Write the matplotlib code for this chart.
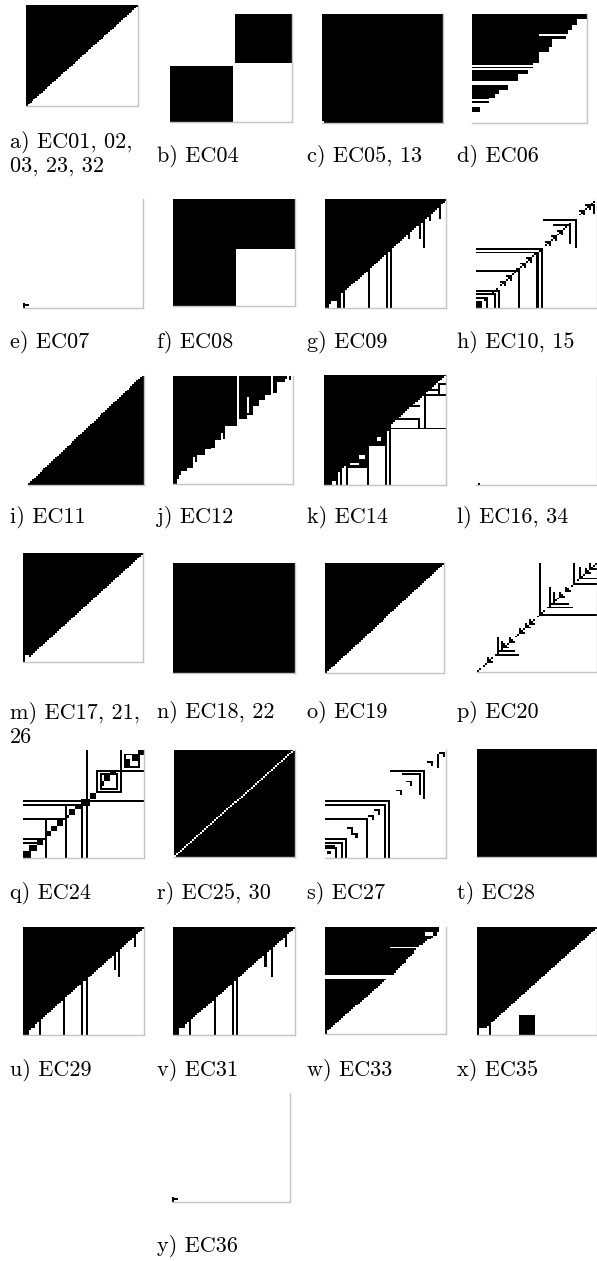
import numpy as np
import matplotlib
matplotlib.use('Agg')
import matplotlib.pyplot as plt

N = 60          # cells per side of every matrix
W, H = 597, 1261

# ---- data: binary matrices, 1 = black cell ----------------------------------
# upper-left triangle: column j holds N-j black cells from the top
tri = list(range(N, 0, -1))

ec04_black = [(0, 27, 32, 60), (29, 60, 0, 31)]
ec05_white = [(59, 60, 0, 1)]
ec06_widths = [60, 60, 60, 55, 55, 55, 52, 52, 52, 50, 50, 35, 49, 49, 42, 42, 42, 42,
               40, 40, 40, 35, 35, 35, 35, 35, 35, 32, 0, 32, 0, 29, 29, 24, 24, 24, 24,
               0, 0, 19, 19, 19, 14, 14, 12, 12, 9, 0, 9, 0, 0, 4, 4, 4, 0, 0, 0, 0, 0, 0]
ec07_black = [(57, 60, 0, 1), (58, 59, 0, 3)]
ec08_white = [(28, 60, 31, 60)]
ec09_spikes = {0: 60, 1: 60, 3: 56, 4: 56, 5: 56, 6: 60, 7: 60, 8: 52, 9: 60, 21: 60,
               30: 60, 32: 60, 41: 22, 46: 22, 48: 27, 51: 12, 56: 11}
ec10_lines = [(27, 28, 0, 33), (27, 60, 32, 33), (29, 30, 0, 31), (29, 60, 30, 31),
              (39, 40, 0, 22), (39, 60, 21, 22), (38, 40, 20, 22),
              (50, 51, 0, 12), (50, 60, 11, 12), (52, 53, 0, 10), (52, 60, 9, 10),
              (54, 55, 0, 6), (54, 60, 5, 6), (56, 60, 0, 3),
              (11, 12, 33, 50), (11, 27, 49, 50), (14, 15, 38, 47), (14, 25, 46, 47),
              (3, 4, 55, 59), (3, 8, 58, 59)]
ec10_dots = [1, 2, 4, 5, 7, 8, 10, 12, 13, 15, 16, 18, 19, 22, 23, 25, 26, 28, 29, 31,
             34, 35, 37, 38, 40, 41, 43, 44, 46, 48, 51, 52, 54, 55, 57, 58]
ec10_heads = [14, 17, 24, 27, 36, 39, 42, 53, 56]
ec11_rise = list(range(1, N + 1))   # lower-right triangle, cells from the bottom
ec12_heights = [60, 60, 57, 55, 53, 53, 53, 51, 51, 51, 45, 48, 44, 44, 44, 44, 41, 41, 41, 40,
                40, 36, 36, 36, 32, 35, 28, 28, 28, 28, 28, 28, 0, 24, 24, 24, 24, 22, 22, 22,
                17, 17, 17, 14, 14, 14, 11, 11, 11, 0, 10, 10, 4, 4, 4, 4, 2, 0, 3, 0]
ec12_holes = [(12, 21, 37, 38)]
ec14_spikes = {0: 60, 1: 60, 2: 60, 3: 60, 4: 58, 5: 58, 6: 60, 7: 53, 8: 60, 11: 60,
               12: 51, 13: 51, 14: 51, 15: 51, 16: 51, 17: 51, 18: 51, 19: 51, 20: 51,
               21: 60, 22: 39, 23: 39, 24: 39, 25: 39, 26: 39, 27: 39, 28: 39, 29: 39,
               30: 60, 31: 31, 32: 60}
ec14_lines = [(29, 30, 32, 60), (11, 12, 49, 60), (12, 30, 49, 50), (5, 6, 56, 60),
              (5, 12, 56, 57), (24, 25, 36, 47), (24, 29, 46, 47), (17, 18, 43, 47),
              (8, 9, 52, 56)]
ec14_holes = [(48, 49, 13, 17), (44, 46, 17, 20), (34, 36, 26, 28)]
ec16_black = [(59, 60, 1, 2)]
ec17_spikes = {1: 56, 2: 56}
ec20_lines = [(0, 29, 31, 32), (28, 29, 31, 60), (13, 25, 36, 37), (24, 25, 36, 48),
              (16, 23, 38, 39), (22, 23, 38, 46), (0, 12, 48, 49), (11, 12, 48, 60),
              (2, 9, 51, 52), (8, 9, 51, 60), (0, 4, 56, 57), (3, 4, 56, 60),
              (41, 51, 10, 11), (50, 51, 10, 21), (43, 49, 12, 13), (48, 49, 12, 19)]
ec20_dots = [0, 1, 3, 4, 6, 7, 9, 11, 12, 14, 15, 17, 19, 20, 22, 23, 25, 27, 28, 30, 32,
             33, 35, 37, 39, 40, 42, 44, 45, 47, 50, 52, 53, 55, 57, 58, 59]
ec20_heads = [5, 13, 16, 21, 24, 26, 41, 44, 54]
ec24_lines = [(28, 29, 0, 60), (0, 60, 31, 32), (30, 31, 0, 32), (28, 60, 29, 30),
              (38, 39, 0, 22), (30, 60, 21, 22), (49, 50, 0, 11), (38, 60, 11, 12),
              (51, 52, 0, 9), (11, 12, 36, 60), (0, 24, 48, 49), (11, 24, 36, 37),
              (23, 24, 36, 49), (13, 14, 38, 47), (13, 22, 38, 39), (21, 22, 38, 47),
              (13, 22, 46, 47), (2, 3, 50, 58), (2, 10, 50, 51), (9, 10, 50, 58), (2, 10, 57, 58)]
ec24_blobs = [(0, 3, 57, 60), (3, 6, 54, 57), (5, 9, 50, 53), (12, 14, 43, 46),
              (14, 17, 40, 43), (17, 20, 38, 40), (24, 27, 33, 36), (27, 31, 29, 33),
              (30, 33, 26, 29), (33, 36, 23, 26), (36, 38, 21, 23), (39, 42, 17, 20),
              (42, 45, 14, 17), (45, 48, 12, 14), (50, 53, 7, 10), (53, 56, 3, 7),
              (56, 60, 0, 4)]
ec25_gap = list(range(N))           # white anti-diagonal, one cell per column
ec27_lines = [(28, 29, 0, 32), (28, 60, 31, 32), (30, 31, 0, 30), (30, 60, 29, 30),
              (38, 39, 0, 21), (38, 60, 20, 21), (49, 50, 0, 11), (49, 60, 10, 11),
              (51, 52, 0, 9), (51, 60, 8, 9), (53, 55, 0, 5), (56, 58, 1, 3), (54, 60, 5, 6),
              (11, 12, 32, 49), (11, 27, 48, 49), (13, 14, 38, 47), (13, 25, 46, 47),
              (2, 10, 55, 56)]
ec27_ticks = [(22, 37), (17, 42), (33, 26), (43, 13), (6, 52), (1, 58), (36, 23), (46, 15)]
ec29_spikes = {0: 60, 1: 60, 2: 60, 4: 56, 5: 56, 8: 60, 20: 60, 29: 60, 31: 60,
               45: 24, 47: 28, 55: 11}
ec31_spikes = {0: 60, 1: 60, 2: 60, 3: 56, 4: 56, 5: 56, 8: 60, 20: 60, 29: 60, 31: 60,
               45: 22, 48: 28, 55: 11}
ec33_widths = [56, 56, 56, 49, 49, 53, 52, 50, 49, 48, 46, 32, 45, 44, 44, 43, 42, 41, 40, 40,
               39, 38, 37, 36, 35, 35, 34, 0, 0, 30, 29, 28, 27, 26, 25, 24, 23, 22, 21, 20,
               19, 18, 17, 16, 15, 14, 13, 12, 11, 10, 9, 8, 7, 6, 5, 4, 3, 2, 1, 1]
ec33_black = [(3, 5, 53, 55)]
ec35_spikes = {0: 60, 1: 56, 2: 56, 3: 56, 6: 60}
ec35_black = [(49, 60, 21, 29)]
ec36_black = [(57, 60, 0, 1), (58, 59, 0, 3)]

captions = ['a) EC01, 02,', 'b) EC04', 'c) EC05, 13', 'd) EC06',
            'e) EC07', 'f) EC08', 'g) EC09', 'h) EC10, 15',
            'i) EC11', 'j) EC12', 'k) EC14', 'l) EC16, 34',
            'm) EC17, 21,', 'n) EC18, 22', 'o) EC19', 'p) EC20',
            'q) EC24', 'r) EC25, 30', 's) EC27', 't) EC28',
            'u) EC29', 'v) EC31', 'w) EC33', 'x) EC35', 'y) EC36']
caption_cont = {'a': '03, 23, 32', 'm': '26'}


# ---- builders -----------------------------------------------------------------
def grid(fill=0.0):
    return np.full((N, N), fill)


def paint(m, rects, val=1.0):
    for r0, r1, c0, c1 in rects:
        m[r0:r1, c0:c1] = val
    return m


def col_fill(heights, spikes=None):
    h = list(heights)
    for c, v in (spikes or {}).items():
        h[c] = v
    m = grid()
    for j, v in enumerate(h):
        m[:v, j] = 1
    return m


def row_fill(widths):
    m = grid()
    for i, v in enumerate(widths):
        m[i, :v] = 1
    return m


def anti_diag(cols):
    return [(N - 1 - c, N - c, c, c + 1) for c in cols]


def hooks_ne(cells):
    out = []
    for r, c in cells:
        out += [(r, r + 1, max(c - 2, 0), c + 1), (r, min(r + 3, N), c, c + 1)]
    return out


def hooks_sw(cells):
    out = []
    for r, c in cells:
        out += [(r, r + 1, c, min(c + 3, N)), (max(r - 2, 0), r + 1, c, c + 1)]
    return out


m_h = paint(grid(), ec10_lines + anti_diag(ec10_dots)
            + hooks_ne([(N - 1 - c, c) for c in ec10_heads]))
m_p = paint(grid(), ec20_lines + anti_diag(ec20_dots)
            + hooks_sw([(N - 1 - c, c) for c in ec20_heads]))
m_k = paint(paint(col_fill(tri, ec14_spikes), ec14_lines), ec14_holes, 0)

panels = [
    col_fill(tri),
    paint(grid(), ec04_black),
    paint(grid(1.0), ec05_white, 0),
    row_fill(ec06_widths),
    paint(grid(), ec07_black),
    paint(grid(1.0), ec08_white, 0),
    col_fill(tri, ec09_spikes),
    m_h,
    np.flipud(col_fill(ec11_rise)),
    paint(col_fill(ec12_heights), ec12_holes, 0),
    m_k,
    paint(grid(), ec16_black),
    col_fill(tri, ec17_spikes),
    grid(1.0),
    col_fill(tri),
    m_p,
    paint(grid(), ec24_lines + ec24_blobs),
    paint(grid(1.0), anti_diag(ec25_gap), 0),
    paint(grid(), ec27_lines + hooks_ne(ec27_ticks)),
    grid(1.0),
    col_fill(tri, ec29_spikes),
    col_fill(tri, ec31_spikes),
    paint(row_fill(ec33_widths), ec33_black),
    paint(col_fill(tri, ec35_spikes), ec35_black),
    paint(grid(), ec36_black),
]

# ---- layout (pixel boxes x0, y0, x1, y1) -------------------------------------
boxes = [(26, 5, 138, 106), (170, 14, 292, 122), (322, 14, 443, 123), (472, 14, 587, 123),
         (23, 199, 143, 308), (173, 199, 295, 306), (325, 199, 446, 308), (476, 199, 597, 308),
         (28, 376, 144, 485), (173, 376, 293, 484), (324, 375, 446, 485), (476, 376, 597, 485),
         (23, 553, 143, 662), (173, 563, 295, 673), (325, 563, 444, 673), (477, 563, 597, 672),
         (23, 750, 144, 858), (174, 750, 295, 857), (325, 750, 446, 858), (477, 749, 597, 857),
         (23, 927, 144, 1035), (173, 927, 295, 1035), (325, 927, 446, 1034), (477, 927, 597, 1035),
         (172, 1093, 290, 1202)]
cap_x = [10, 157, 307, 457]
cap_y = [148, 162, 162, 162, 348, 348, 348, 348, 523, 523, 523, 523,
         719, 718, 718, 718, 899, 899, 899, 899, 1076, 1076, 1076, 1076, 1252]

fig = plt.figure(figsize=(W / 100, H / 100), dpi=100)
fig.patch.set_facecolor('white')

for k, (mat, (x0, y0, x1, y1)) in enumerate(zip(panels, boxes)):
    ax = fig.add_axes([x0 / W, 1 - y1 / H, (x1 - x0) / W, (y1 - y0) / H])
    ax.imshow(mat, cmap='gray_r', vmin=0, vmax=1, aspect='auto', interpolation='nearest')
    ax.set_xticks([])
    ax.set_yticks([])
    for s in ['top', 'left']:
        ax.spines[s].set_visible(False)
    for s in ['right', 'bottom']:
        ax.spines[s].set_color('#c4c4c4')
        ax.spines[s].set_linewidth(1.0)

for k, txt in enumerate(captions):
    col = 1 if k == 24 else k % 4
    fig.text(cap_x[col] / W, 1 - cap_y[k] / H, txt, family='cmr10', fontsize=16,
             ha='left', va='baseline')
    key = txt[0]
    if key in caption_cont:
        fig.text(cap_x[col] / W, 1 - (cap_y[k] + 24) / H, caption_cont[key], family='cmr10',
                 fontsize=16, ha='left', va='baseline')

fig.savefig('out.png', dpi=100)
